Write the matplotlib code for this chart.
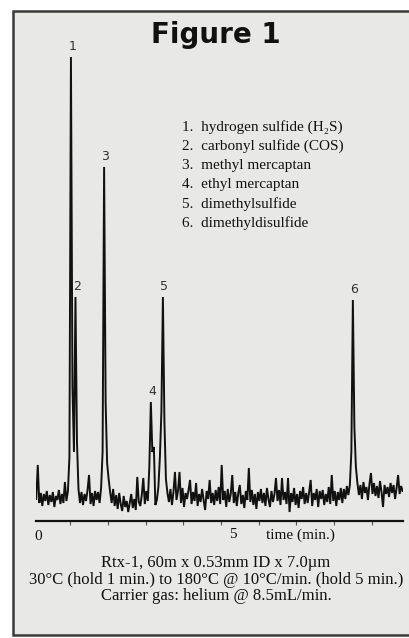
import matplotlib.pyplot as plt
from matplotlib.patches import Rectangle
import numpy as np

# detector trace, sampled every 0.04 min starting at 0.10 min (arbitrary response units)
start_time = 0.10
sample_interval = 0.04
signal = [
    -2, 32, -6, 4, -9, 3, -4, 6, -8, 2,
    -5, 5, -10, 1, -3, 7, -7, 3, -6, 15,
    -4, 6, 40, 440, 110, 45, 200, 55, 8, -6,
    5, -8, 3, -4, 7, 22, -7, 4, -9, 6,
    -3, 5, -6, 9, 45, 330, 95, 34, 18, 5,
    -6, 8, -9, 2, -12, 4, -7, -14, 1, -10,
    -4, -15, -6, 3, -11, -2, -13, 20, -5, -9,
    2, 19, -7, 6, -4, 30, 95, 45, 50, -8,
    -3, 10, 40, 85, 200, 75, 18, 4, -5, 8,
    -8, 5, 25, -3, 6, 25, -6, 9, -10, 4,
    -2, 7, 17, -7, 5, -4, 14, -9, 3, -5,
    8, -3, -13, 6, -2, 17, -6, 4, -8, 7,
    -4, 10, -7, 32, -3, 6, -10, 8, -5, 3,
    22, -6, 5, -9, 4, 12, -7, 2, -11, 6,
    -3, 29, -5, 7, -8, 3, -12, 5, -4, 8,
    -6, 4, -9, 9, -2, -10, 6, -5, 3, 19,
    -4, 7, -8, 19, -3, 5, -7, 19, -15, 4,
    -5, 9, -8, 3, -11, 6, -2, 10, -7, 4,
    -6, 5, 17, -9, 4, -3, 8, -10, 6, -2,
    7, -8, 3, -5, 10, -7, 22, -4, 6, -9,
    5, -3, 9, -6, 8, -2, 11, 2, 12, 45,
    197, 70, 30, 14, 2, 12, -2, 15, 4, 10,
    -3, 13, 24, 3, 14, 1, 11, -1, 16, 5,
    -10, 12, 3, 10, 0, 14, 4, 12, -2, 9,
    22, 3, 11, 6,
]

# peak numbers and approximate retention times (min)
peak_ids = ['1', '2', '3', '4', '5', '6']
peak_times = [1.02, 1.14, 1.90, 3.14, 3.46, 8.50]

compounds = [
    '1.  hydrogen sulfide (H\u2082S)',
    '2.  carbonyl sulfide (COS)',
    '3.  methyl mercaptan',
    '4.  ethyl mercaptan',
    '5.  dimethylsulfide',
    '6.  dimethyldisulfide',
]

conditions = [
    'Rtx-1, 60m x 0.53mm ID x 7.0\u00b5m',
    '30\u00b0C (hold 1 min.) to 180\u00b0C @ 10\u00b0C/min. (hold 5 min.)',
    'Carrier gas: helium @ 8.5mL/min.',
]

W, H = 409, 638
paper = '#e8e8e6'
ink = '#111111'
serif = ['Liberation Serif', 'DejaVu Serif']


def px(x, y):
    return x / W, 1 - y / H


fig = plt.figure(figsize=(W / 100, H / 100), dpi=100)
fig.patch.set_facecolor('white')

# page frame, kept behind the axes
fig.patches.append(Rectangle(px(13, 635), (420 - 13) / W, (635 - 11) / H,
                             transform=fig.transFigure, facecolor=paper,
                             edgecolor='#3a3a3a', linewidth=1.8, zorder=-5))

ax = fig.add_axes([36 / W, 1 - 521 / H, (403 - 36) / W, (521 - 40) / H])
ax.set_facecolor('none')
ax.set_zorder(2)

times = start_time + sample_interval * np.arange(len(signal))
ax.plot(times, signal, color=ink, lw=1.4, solid_joinstyle='miter')

ax.set_xlim(0.093, 9.83)
ax.set_ylim(-24, 457)
for s in ['left', 'right', 'top']:
    ax.spines[s].set_visible(False)
ax.spines['bottom'].set_linewidth(1.6)
ax.spines['bottom'].set_color(ink)
ax.set_yticks([])
ax.set_xticks(range(1, 10))
ax.set_xticklabels([])
ax.tick_params(axis='x', direction='out', length=3, width=0.8, color='#555555')

# peak numbers above each apex
sig = np.array(signal)
for pid, rt in zip(peak_ids, peak_times):
    i = int(round((rt - start_time) / sample_interval))
    lo, hi = max(i - 1, 0), i + 2
    j = lo + int(np.argmax(sig[lo:hi]))
    ax.annotate(pid, (times[j], sig[j]), xytext=(1, 3), textcoords='offset points',
                ha='center', va='bottom', fontsize=9, color='#333333')

fig.text(*px(216, 35), 'Figure 1', ha='center', va='center',
         fontsize=20, fontweight='heavy', color=ink)

for k, line in enumerate(compounds):
    fig.text(*px(182, 127 + 19.3 * k), line, ha='left', va='center',
             fontsize=11, family=serif, color=ink)

fig.text(*px(38, 537), '0', ha='center', va='center', fontsize=11, family=serif, color=ink)
fig.text(*px(233, 535), '5', ha='center', va='center', fontsize=11, family=serif, color=ink)
fig.text(*px(266, 535), 'time (min.)', ha='left', va='center', fontsize=11, family=serif, color=ink)

for k, line in enumerate(conditions):
    fig.text(*px(216, 563 + 16.5 * k), line, ha='center', va='center',
             fontsize=12, family=serif, color=ink)

fig.savefig('out.png', dpi=100)
